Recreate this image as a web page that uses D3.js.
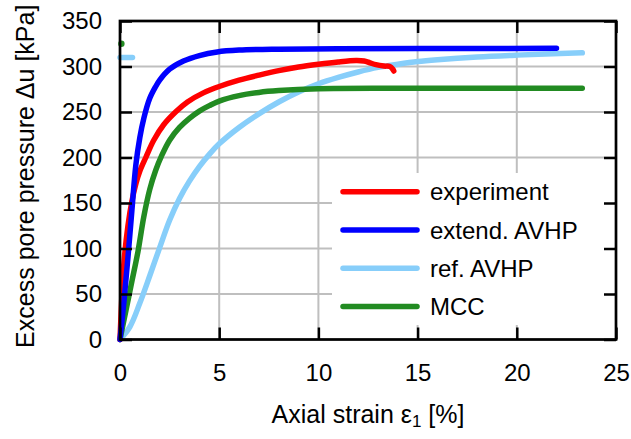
<!DOCTYPE html>
<html>
<head>
<meta charset="utf-8">
<script src="https://cdn.jsdelivr.net/npm/d3@7"></script>
<style>
  html, body { margin: 0; padding: 0; background: #fff; }
  svg { display: block; font-family: "Liberation Sans", Arial, Helvetica, sans-serif; }
</style>
</head>
<body>
<svg id="chart" width="631" height="439"></svg>
<script>
// Axial strain [%] and excess pore pressure [kPa] for each series
const experimentStrain = [0, 0.1, 0.2, 0.4, 0.6, 0.8, 1.0, 1.3, 1.7, 2.2, 2.8, 3.4, 4.2, 5.0, 6.0, 7.0, 8.0, 9.0, 10.0, 11.0, 11.9, 12.3, 12.6, 12.9, 13.3, 13.6, 13.75, 13.8];
const experimentPressure = [0, 50, 85, 125, 152, 171, 185, 200, 219, 236, 250, 261, 271, 278, 285, 290.5, 295.5, 299.5, 302.5, 305, 306.5, 306, 304, 302, 300.5, 300, 297, 295];

const extendStrain = [0, 0.2, 0.4, 0.6, 0.8, 1.0, 1.2, 1.5, 1.8, 2.0, 2.5, 3.2, 4.0, 4.9, 6.0, 8.0, 11.0, 16.0, 22.0];
const extendPressure = [0, 42, 90, 142, 192, 222, 243, 265, 278, 285, 297, 306, 312, 316, 318, 319, 319.4, 319.7, 320];

const refStrain = [0, 0.5, 1.0, 1.5, 2.0, 2.5, 3.0, 3.5, 4.0, 4.5, 5.0, 6.0, 7.0, 8.0, 9.0, 10.0, 11.0, 12.0, 13.0, 14.0, 15.0, 16.0, 18.0, 20.0, 23.3];
const refPressure = [0, 14, 40, 70, 101, 131, 155, 174, 190, 203.5, 215, 233, 248, 261, 272, 281, 288, 294, 299, 302.5, 305.5, 307.5, 310.5, 312.5, 315];
// short initial stretch of the reference model output
const refStartStrain = [0, 0.63];
const refStartPressure = [310, 310];

const mccStrain = [0, 0.3, 0.6, 0.9, 1.2, 1.5, 1.8, 2.1, 2.5, 3.0, 3.5, 4.0, 4.5, 5.0, 6.0, 7.0, 8.0, 10.0, 14.0, 23.3];
const mccPressure = [0, 32, 64, 96, 135, 165, 186, 202, 219, 233, 243, 251, 257, 262, 268, 271.5, 273.5, 275.5, 276, 276];
// isolated initial MCC point
const mccStartStrain = [0.07];
const mccStartPressure = [325];

const xTicks = [0, 5, 10, 15, 20, 25];
const yTicks = [0, 50, 100, 150, 200, 250, 300, 350];

const legendLabels = ["experiment", "extend. AVHP", "ref. AVHP", "MCC"];
const seriesColors = ["#ff0000", "#0000ff", "#87cefa", "#228b22"];

(function draw() {
  const svg = d3.select("#chart");
  const pLeft = 120, pRight = 616, pTop = 21, pBottom = 339.5;

  const x = d3.scaleLinear().domain([0, 25]).range([pLeft, pRight]);
  const y = d3.scaleLinear().domain([0, 350]).range([pBottom, pTop]);

  // grid
  const grid = svg.append("g").attr("stroke", "#bfbfbf").attr("stroke-width", 2);
  grid.selectAll("line.gx").data(xTicks).join("line").attr("class", "gx")
    .attr("x1", d => x(d)).attr("x2", d => x(d)).attr("y1", pTop).attr("y2", pBottom);
  grid.selectAll("line.gy").data(yTicks).join("line").attr("class", "gy")
    .attr("x1", pLeft).attr("x2", pRight).attr("y1", d => y(d)).attr("y2", d => y(d));

  // series
  const zip = (xs, ys) => xs.map((v, i) => [v, ys[i]]);
  const line = d3.line().x(d => x(d[0])).y(d => y(d[1])).curve(d3.curveCatmullRom.alpha(0.5));
  const lineStraight = d3.line().x(d => x(d[0])).y(d => y(d[1]));

  const curves = svg.append("g").attr("fill", "none").attr("stroke-width", 5.5)
    .attr("stroke-linecap", "round").attr("stroke-linejoin", "round");

  curves.append("path").attr("d", lineStraight(zip(refStartStrain, refStartPressure))).attr("stroke", seriesColors[2]);
  curves.append("path").attr("d", line(zip(refStrain, refPressure))).attr("stroke", seriesColors[2]);
  curves.append("path").attr("d", line(zip(mccStrain, mccPressure))).attr("stroke", seriesColors[3]);
  curves.append("path").attr("d", line(zip(experimentStrain, experimentPressure))).attr("stroke", seriesColors[0]);
  curves.append("path").attr("d", line(zip(extendStrain, extendPressure))).attr("stroke", seriesColors[1]);
  svg.append("g").selectAll("circle").data(zip(mccStartStrain, mccStartPressure)).join("circle")
    .attr("cx", d => x(d[0])).attr("cy", d => y(d[1])).attr("r", 3.2).attr("fill", seriesColors[3]);

  // legend
  const legend = svg.append("g");
  legend.append("rect").attr("x", 332).attr("y", 173).attr("width", 282).attr("height", 152).attr("fill", "#fff");
  const rows = legend.selectAll("g.row").data(legendLabels).join("g").attr("class", "row")
    .attr("transform", (d, i) => `translate(0, ${191.7 + i * 38.3})`);
  rows.append("line").attr("x1", 343).attr("x2", 417).attr("y1", 0).attr("y2", 0)
    .attr("stroke", (d, i) => seriesColors[i]).attr("stroke-width", 5.5).attr("stroke-linecap", "round");
  rows.append("text").attr("x", 430).attr("y", 8.5).attr("font-size", 24).attr("fill", "#000").text(d => d);

  // axes with inward ticks on all four sides
  const styleAxis = g => {
    g.select(".domain").remove();
    g.selectAll(".tick line").attr("stroke", "#000").attr("stroke-width", 2.5);
    g.selectAll(".tick text").attr("font-size", 24).attr("fill", "#000");
    g.attr("font-family", null).attr("font-size", null);
  };
  svg.append("g").attr("transform", `translate(0,${pBottom})`)
    .call(d3.axisBottom(x).tickValues(xTicks).tickSize(-12).tickPadding(24)).call(styleAxis);
  svg.append("g").attr("transform", `translate(0,${pTop})`)
    .call(d3.axisTop(x).tickValues(xTicks).tickSize(-12).tickFormat(() => "")).call(styleAxis);
  svg.append("g").attr("transform", `translate(${pLeft},0)`)
    .call(d3.axisLeft(y).tickValues(yTicks).tickSize(-12).tickPadding(18)).call(styleAxis);
  svg.append("g").attr("transform", `translate(${pRight},0)`)
    .call(d3.axisRight(y).tickValues(yTicks).tickSize(-12).tickFormat(() => "")).call(styleAxis);

  // frame
  svg.append("rect").attr("x", pLeft).attr("y", pTop).attr("width", pRight - pLeft).attr("height", pBottom - pTop)
    .attr("fill", "none").attr("stroke", "#000").attr("stroke-width", 2.7);

  // axis titles
  const xTitle = svg.append("text").attr("x", (pLeft + pRight) / 2).attr("y", 423)
    .attr("text-anchor", "middle").attr("font-size", 25).attr("fill", "#000");
  xTitle.append("tspan").text("Axial strain ε");
  xTitle.append("tspan").attr("font-size", 17).attr("dy", 4).text("1");
  xTitle.append("tspan").attr("dy", -4).text(" [%]");

  svg.append("text").attr("transform", `translate(34, ${(pTop + pBottom) / 2 - 4}) rotate(-90)`)
    .attr("text-anchor", "middle").attr("font-size", 25).attr("fill", "#000")
    .text("Excess pore pressure Δu [kPa]");
})();
</script>
</body>
</html>
